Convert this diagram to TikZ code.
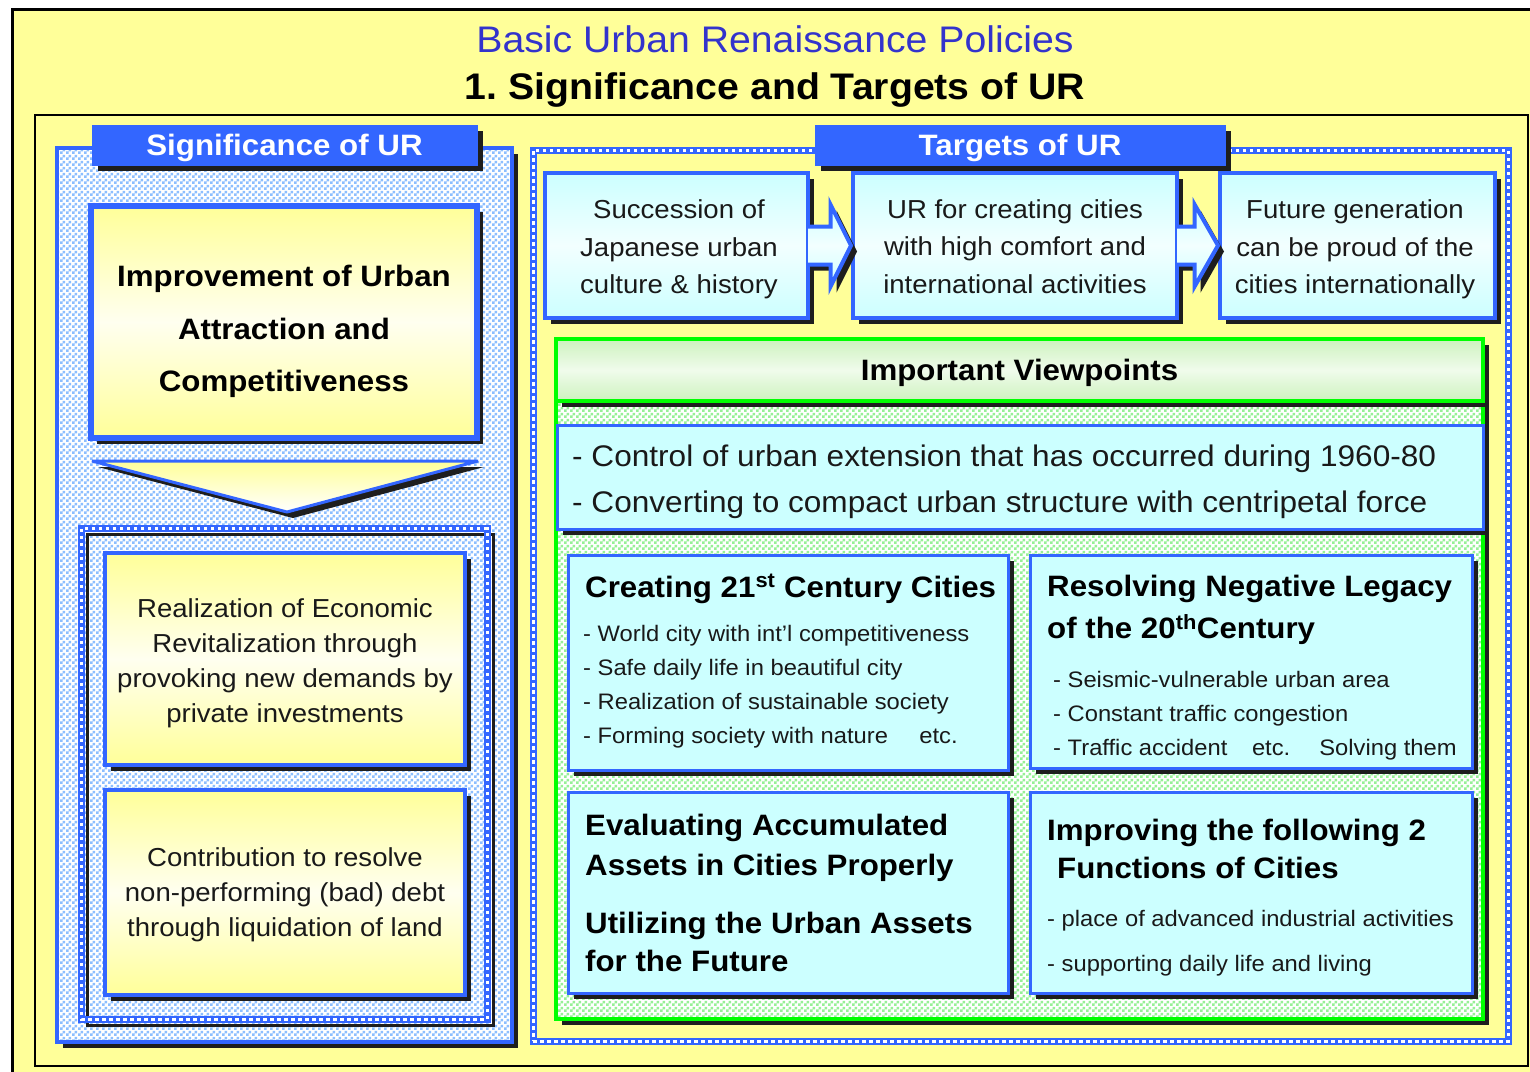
\documentclass[tikz,border=0pt]{standalone}
\usepackage{fontspec}
\setmainfont{Liberation Sans}[FakeStretch=1.06]
\usetikzlibrary{calc, shadows, patterns}

\definecolor{bgyellow}{RGB}{255,255,153}
\definecolor{ublue}{RGB}{51,102,255}
\definecolor{titleblue}{RGB}{51,51,204}
\definecolor{ucyan}{RGB}{204,255,255}
\definecolor{ugreen}{RGB}{0,255,0}
\definecolor{chkblue}{RGB}{140,190,255}
\definecolor{chkgreen}{RGB}{150,240,150}
\definecolor{palegreen}{RGB}{205,242,190}
\definecolor{shadowblk}{RGB}{30,30,30}

\pgfdeclarepatternformonly{checker}{\pgfqpoint{0pt}{0pt}}{\pgfqpoint{6pt}{6pt}}{\pgfqpoint{6pt}{6pt}}{%
  \pgfpathrectangle{\pgfqpoint{0pt}{0pt}}{\pgfqpoint{3pt}{3pt}}%
  \pgfpathrectangle{\pgfqpoint{3pt}{3pt}}{\pgfqpoint{3pt}{3pt}}%
  \pgfusepath{fill}}

\newcommand\setsz[2]{\fontsize{#1}{#2}\selectfont}

\tikzset{
  shad/.style={drop shadow={shadow xshift=6pt, shadow yshift=-6pt, opacity=1, fill=shadowblk}},
  checkfill/.style={preaction={fill=white}, pattern=checker, pattern color=#1},
  panel/.style={draw=ublue, line width=4pt, shad, checkfill=chkblue},
  tab/.style={draw=ublue, fill=ublue, line width=1pt, shad, text=white, text depth=0pt, font=\bfseries\setsz{29.5}{36}},
  chain/.style={draw=ublue, line width=7pt, postaction={draw=white, line width=3pt, dash pattern=on 3.5pt off 3.5pt}},
  ybox/.style={draw=ublue, line width=4pt, shad, top color=bgyellow, bottom color=bgyellow, middle color=bgyellow!15},
  cbox/.style={draw=ublue, line width=4pt, shad, top color=ucyan, bottom color=ucyan, middle color=ucyan!25},
  sbox/.style={draw=ublue, line width=3pt, shad, fill=ucyan},
  blockarr/.style={draw=ublue, line width=4pt, shad, top color=ucyan, bottom color=ucyan, middle color=ucyan!25, line join=miter},
  chevron/.style={draw=ublue, line width=3pt, shad, top color=bgyellow, bottom color=white, line join=bevel},
  header/.style={draw=ugreen, line width=4pt, shad, top color=palegreen, bottom color=palegreen, middle color=palegreen!30, text depth=0pt, font=\bfseries\setsz{29.5}{36}},
  txt/.style={inner sep=0pt, align=center, text=black!90, font=\setsz{26}{35}},
  boldtxt/.style={inner sep=0pt, align=center, text=black, font=\bfseries\setsz{29.5}{52.5}},
  hdtxt/.style={inner sep=0pt, align=left, text=black, font=\bfseries\setsz{29.5}{40}},
  bultxt/.style={inner sep=0pt, align=left, text=black!90, font=\setsz{22.4}{34}}
}

\begin{document}
\begin{tikzpicture}[x=1pt, y=-1pt]
\useasboundingbox (0,0) rectangle (1530,1071);
\clip (0,0) rectangle (1530,1071);
\fill[white] (0,0) rectangle (1530,1071);
\draw[line width=3pt, fill=bgyellow] (12,9) rectangle (1560,1090);
\draw[line width=2pt] (35,115) rectangle (1528,1066);

\node[anchor=base, inner sep=0pt, text=titleblue, font=\setsz{37}{44}] (title) at (775,52) {Basic Urban Renaissance Policies};
\node[anchor=base, inner sep=0pt, font=\bfseries\setsz{37}{44}] (subtitle) at (775,99) {1.\ Significance and Targets of UR};

% Significance of UR
\node[panel, minimum width=455, minimum height=894] (sigpanel) at (284.5,595) {};
\node[tab, minimum width=385, minimum height=40] (sigtab) at (284.5,145) {Significance of UR};
\node[ybox, line width=6pt, minimum width=386, minimum height=232] (improve) at (284,322) {};
\node[boldtxt] (improvetxt) at (284,331.7) {Improvement of Urban\\Attraction and\\Competitiveness};
\draw[chevron] ($(improve.south west)+(4,20)$) -- ($(improve.south east)+(-2,20)$) -- ($(improve.south)+(3,71)$) -- cycle;

\node[minimum width=405, minimum height=490] (lower) at (284.5,774) {};
\draw[line width=3pt, shadowblk] ($(lower.north west)+(6,6)$) rectangle ($(lower.south east)+(6,6)$);
\draw[chain] (lower.north west) rectangle (lower.south east);
\node[ybox, minimum width=360, minimum height=212] (realize) at (285,659) {};
\node[txt] (realizetxt) at (285,663) {Realization of Economic\\Revitalization through\\provoking new demands by\\private investments};
\node[ybox, minimum width=360, minimum height=205] (contrib) at (285,892.5) {};
\node[txt] (contribtxt) at (285,895) {Contribution to resolve\\non-performing (bad) debt\\through liquidation of land};

% Targets of UR
\node[chain, minimum width=975, minimum height=891] (tgpanel) at (1020.5,595.5) {};
\node[tab, minimum width=410, minimum height=40] (tgtab) at (1020,145) {Targets of UR};

\node[cbox, minimum width=263, minimum height=145] (succ) at (676.5,245.5) {};
\node[cbox, minimum width=324, minimum height=145] (urcomf) at (1015,245.5) {};
\node[cbox, minimum width=275, minimum height=145] (proud) at (1357.5,245.5) {};

\coordinate (a1) at ($(succ.east)!0.5!(urcomf.west)$);
\draw[blockarr] ($(succ.east)+(-2,-19)$) -- ($(a1)+(0,-19)$) -- ($(a1)+(0,-41)$) -- (urcomf.west)
  -- ($(a1)+(0,41)$) -- ($(a1)+(0,19)$) -- ($(succ.east)+(-2,19)$);
\coordinate (a2) at ($(urcomf.east)!0.4!(proud.west)$);
\draw[blockarr] ($(urcomf.east)+(-2,-19)$) -- ($(a2)+(0,-19)$) -- ($(a2)+(0,-41)$) -- (proud.west)
  -- ($(a2)+(0,41)$) -- ($(a2)+(0,19)$) -- ($(urcomf.east)+(-2,19)$);

\node[txt, font=\setsz{26}{37.5}] (succtxt) at (679,249.3) {Succession of\\Japanese urban\\culture \& history};
\node[txt, font=\setsz{26}{37.5}] (urcomftxt) at (1015,246.5) {UR for creating cities\\with high comfort and\\international activities};
\node[txt, font=\setsz{26}{37.5}] (proudtxt) at (1355,249.3) {Future generation\\can be proud of the\\cities internationally};

% Important Viewpoints
\node[draw=ugreen, line width=4pt, shad, checkfill=chkgreen, minimum width=927, minimum height=680] (vpanel) at (1019.5,679) {};
\node[header, minimum width=927, minimum height=62] (vhead) at (1019.5,370) {Important Viewpoints};
\node[sbox, minimum width=926, minimum height=104] (views) at (1020,477) {};
\node[bultxt, anchor=north west, font=\setsz{29.8}{46}] (viewstxt) at (572,445) {- Control of urban extension that has occurred during 1960-80\\- Converting to compact urban structure with centripetal force};

\node[sbox, minimum width=440, minimum height=215] (create) at (788,662.5) {};
\node[sbox, minimum width=442, minimum height=213] (resolve) at (1251,661.5) {};
\node[sbox, minimum width=440, minimum height=201] (evaluate) at (788,892.5) {};
\node[sbox, minimum width=442, minimum height=201] (functions) at (1251,892.5) {};

\node[hdtxt, anchor=base west] (createhd) at (585,597) {Creating 21\textsuperscript{st} Century Cities};
\node[bultxt, anchor=north west] (createlist) at (583,624.6) {- World city with int’l competitiveness\\- Safe daily life in beautiful city\\- Realization of sustainable society\\- Forming society with nature\hspace{1.4em}etc.};
\node[hdtxt, anchor=north west, font=\bfseries\setsz{29.5}{41.6}] (resolvehd) at (1047,575.2) {Resolving Negative Legacy\\of the 20\textsuperscript{th}Century};
\node[bultxt, anchor=north west] (resolvelist) at (1053,671) {- Seismic-vulnerable urban area\\- Constant traffic congestion\\- Traffic accident\hspace{1.1em}etc.\hspace{1.3em}Solving them};
\node[hdtxt, anchor=north west] (evalhd) at (585,813.5) {Evaluating Accumulated\\Assets in Cities Properly};
\node[hdtxt, anchor=north west, font=\bfseries\setsz{29.5}{38.4}] (utilhd) at (585,911.8) {Utilizing the Urban Assets\\for the Future};
\node[hdtxt, anchor=north west, font=\bfseries\setsz{29.5}{38.3}] (funchd) at (1047,818.5) {Improving the following 2\\\hspace{10pt}Functions of Cities};
\node[bultxt, anchor=north west, font=\setsz{22.4}{45}] (funclist) at (1047,910.3) {- place of advanced industrial activities\\- supporting daily life and living};
\end{tikzpicture}
\end{document}
